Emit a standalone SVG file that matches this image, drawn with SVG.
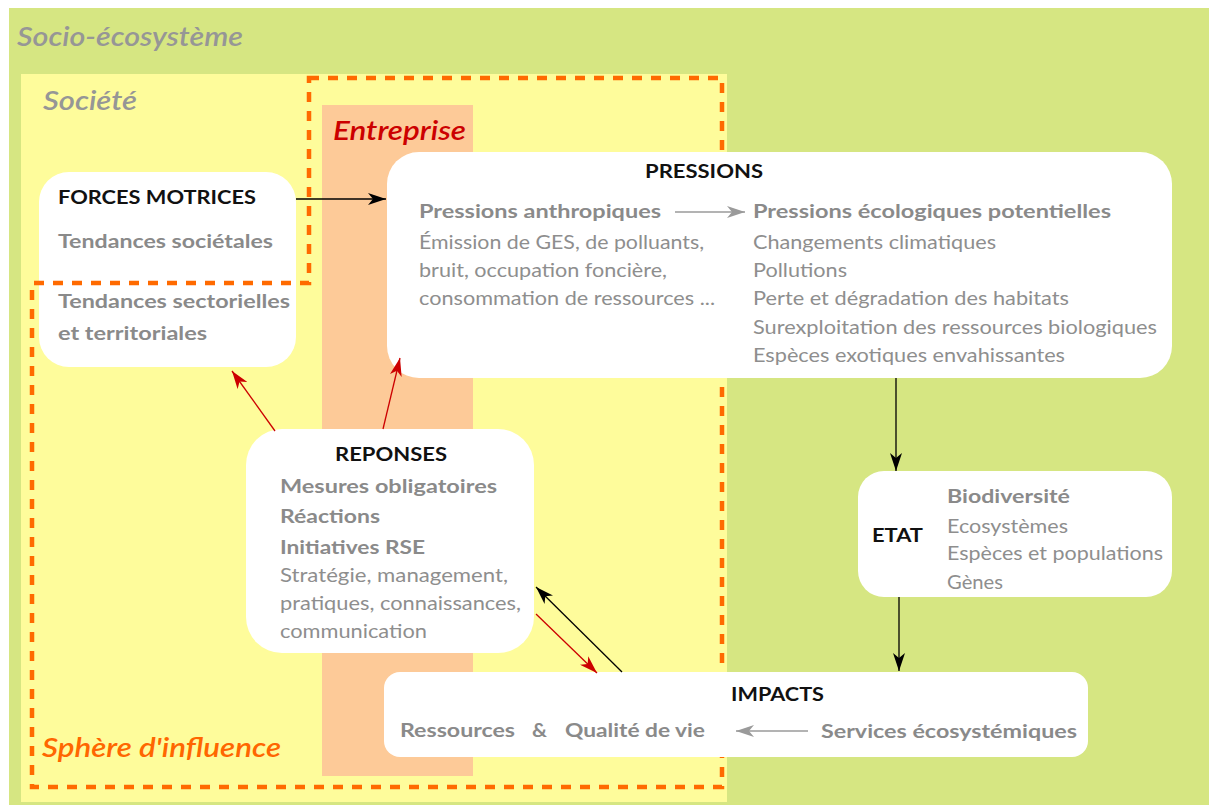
<svg xmlns="http://www.w3.org/2000/svg" width="1209" height="805" viewBox="0 0 1209 805">
<style>
text { font-family: Lato, "Open Sans", "Liberation Sans", sans-serif; }
.title { font-size: 27px; font-style: italic; font-weight: 600; }
.h { font-size: 19px; font-weight: bold; fill: #111; }
.b { font-size: 19px; font-weight: bold; fill: #8a8a8a; }
.r { font-size: 19px; fill: #8e8e8e; }
.box { fill: #ffffff; }
.blk { stroke: #000; stroke-width: 1.3; fill: none; }
.red { stroke: #cc0000; stroke-width: 1.3; fill: none; }
.gry { stroke: #9a9a9a; stroke-width: 1.6; fill: none; }
</style>
<defs>
<marker id="ab" viewBox="0 0 18 12" refX="18" refY="6" markerWidth="18" markerHeight="12" orient="auto" markerUnits="userSpaceOnUse"><path d="M0,0 L18,6 L0,12 L5,6 Z" fill="#000"/></marker>
<marker id="ar" viewBox="0 0 18 12" refX="18" refY="6" markerWidth="18" markerHeight="12" orient="auto" markerUnits="userSpaceOnUse"><path d="M0,0 L18,6 L0,12 L5,6 Z" fill="#cc0000"/></marker>
<marker id="ag" viewBox="0 0 18 12" refX="18" refY="6" markerWidth="18" markerHeight="12" orient="auto" markerUnits="userSpaceOnUse"><path d="M0,0 L18,6 L0,12 L5,6 Z" fill="#9a9a9a"/></marker>
</defs>

<g id="socio-ecosysteme">
<rect x="9" y="8" width="1200" height="797" fill="#d6e682"/>
<text class="title" x="17" y="46" fill="#969696" textLength="226" lengthAdjust="spacingAndGlyphs">Socio-écosystème</text>
</g>
<g id="societe">
<rect x="21" y="74" width="706" height="728" fill="#fefc9b"/>
<text class="title" x="43" y="110" fill="#969696" textLength="94" lengthAdjust="spacingAndGlyphs">Société</text>
</g>
<g id="entreprise">
<rect x="322" y="105" width="151" height="671" fill="#fdca98"/>
<text class="title" x="333" y="140" fill="#cc0000" textLength="133" lengthAdjust="spacingAndGlyphs">Entreprise</text>
</g>

<g id="forces-motrices">
<rect class="box" x="39" y="172" width="257" height="195" rx="30" ry="30"/>
<text class="h" x="58" y="204" textLength="198" lengthAdjust="spacingAndGlyphs">FORCES MOTRICES</text>
<text class="b" x="58" y="248" textLength="215" lengthAdjust="spacingAndGlyphs">Tendances sociétales</text>
<text class="b" x="58" y="308" textLength="232" lengthAdjust="spacingAndGlyphs">Tendances sectorielles</text>
<text class="b" x="58" y="340" textLength="149" lengthAdjust="spacingAndGlyphs">et territoriales</text>
</g>

<g id="sphere-influence">
<polygon points="309,78 722,78 722,787 32,787 32,283 309,283" fill="none" stroke="#ff6a00" stroke-width="4.5" stroke-dasharray="10 9"/>
<text class="title" x="42" y="757" fill="#ff6600" textLength="239" lengthAdjust="spacingAndGlyphs">Sphère d'influence</text>
</g>

<g id="pressions">
<rect class="box" x="387" y="152" width="785" height="226" rx="32" ry="32"/>
<text class="h" x="645" y="178" textLength="118" lengthAdjust="spacingAndGlyphs">PRESSIONS</text>
<text class="b" x="419" y="218" textLength="242" lengthAdjust="spacingAndGlyphs">Pressions anthropiques</text>
<path class="gry" d="M675,212 L745,212" marker-end="url(#ag)"/>
<text class="b" x="753" y="218" textLength="358" lengthAdjust="spacingAndGlyphs">Pressions écologiques potentielles</text>
<text class="r" x="419" y="249" textLength="285" lengthAdjust="spacingAndGlyphs">Émission de GES, de polluants,</text>
<text class="r" x="419" y="277" textLength="248" lengthAdjust="spacingAndGlyphs">bruit, occupation foncière,</text>
<text class="r" x="419" y="305" textLength="296" lengthAdjust="spacingAndGlyphs">consommation de ressources ...</text>
<text class="r" x="753" y="249" textLength="243" lengthAdjust="spacingAndGlyphs">Changements climatiques</text>
<text class="r" x="753" y="277" textLength="94" lengthAdjust="spacingAndGlyphs">Pollutions</text>
<text class="r" x="753" y="305" textLength="316" lengthAdjust="spacingAndGlyphs">Perte et dégradation des habitats</text>
<text class="r" x="753" y="334" textLength="404" lengthAdjust="spacingAndGlyphs">Surexploitation des ressources biologiques</text>
<text class="r" x="753" y="362" textLength="312" lengthAdjust="spacingAndGlyphs">Espèces exotiques envahissantes</text>
</g>

<g id="reponses">
<rect class="box" x="246" y="429" width="288" height="224" rx="36" ry="36"/>
<text class="h" x="335" y="461" textLength="112" lengthAdjust="spacingAndGlyphs">REPONSES</text>
<text class="b" x="280" y="493" textLength="217" lengthAdjust="spacingAndGlyphs">Mesures obligatoires</text>
<text class="b" x="280" y="523" textLength="100" lengthAdjust="spacingAndGlyphs">Réactions</text>
<text class="b" x="280" y="554" textLength="145" lengthAdjust="spacingAndGlyphs">Initiatives RSE</text>
<text class="r" x="280" y="582" textLength="228" lengthAdjust="spacingAndGlyphs">Stratégie, management,</text>
<text class="r" x="280" y="610" textLength="241" lengthAdjust="spacingAndGlyphs">pratiques, connaissances,</text>
<text class="r" x="280" y="638" textLength="147" lengthAdjust="spacingAndGlyphs">communication</text>
</g>

<g id="etat">
<rect class="box" x="858" y="471" width="314" height="126" rx="26" ry="26"/>
<text class="h" x="872" y="542" textLength="51" lengthAdjust="spacingAndGlyphs">ETAT</text>
<text class="b" x="947" y="503" textLength="123" lengthAdjust="spacingAndGlyphs">Biodiversité</text>
<text class="r" x="947" y="533" textLength="121" lengthAdjust="spacingAndGlyphs">Ecosystèmes</text>
<text class="r" x="947" y="560" textLength="216" lengthAdjust="spacingAndGlyphs">Espèces et populations</text>
<text class="r" x="947" y="589" textLength="56" lengthAdjust="spacingAndGlyphs">Gènes</text>
</g>

<g id="impacts">
<rect class="box" x="384" y="672" width="704" height="85" rx="16" ry="16"/>
<text class="h" x="731" y="701" textLength="93" lengthAdjust="spacingAndGlyphs">IMPACTS</text>
<text class="b" x="400" y="737" textLength="115" lengthAdjust="spacingAndGlyphs">Ressources</text>
<text class="b" x="532" y="737" textLength="15" lengthAdjust="spacingAndGlyphs">&amp;</text>
<text class="b" x="565" y="737" textLength="140" lengthAdjust="spacingAndGlyphs">Qualité de vie</text>
<path class="gry" d="M808,731 L736,731" marker-end="url(#ag)"/>
<text class="b" x="821" y="738" textLength="256" lengthAdjust="spacingAndGlyphs">Services écosystémiques</text>
</g>

<g id="connectors">
<path class="blk" d="M296,199 L386,199" marker-end="url(#ab)"/>
<path class="blk" d="M896,378 L896,471" marker-end="url(#ab)"/>
<path class="blk" d="M899,597 L899,671" marker-end="url(#ab)"/>
<path class="red" d="M275,431 L232,371" marker-end="url(#ar)"/>
<path class="red" d="M383,429 L400,358" marker-end="url(#ar)"/>
<path class="red" d="M536,614 L597,673" marker-end="url(#ar)"/>
<path class="blk" d="M622,672 L536,587" marker-end="url(#ab)"/>
</g>
</svg>
